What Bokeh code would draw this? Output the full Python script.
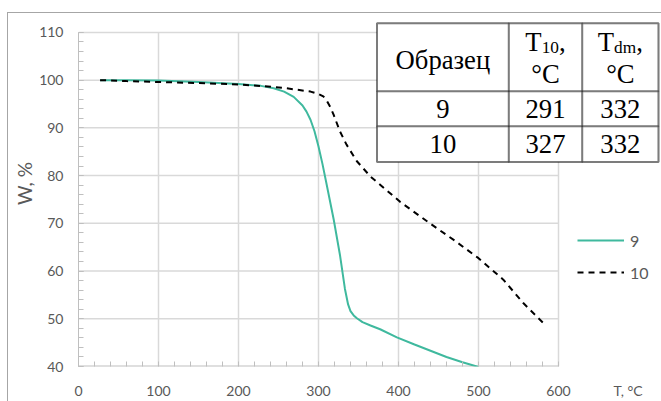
from bokeh.plotting import figure
from bokeh.models import (Range1d, FixedTicker, Label, BoxAnnotation, Legend,
                          LegendItem, InlineStyleSheet)
from bokeh.embed import file_html
from bokeh.resources import INLINE

# ---- data ----
T9 = [27, 60, 100, 150, 200, 228, 244, 257, 269, 280, 285, 290, 295, 300, 305, 310, 319, 327, 333, 337, 340, 344, 348, 355, 365, 377, 398, 420, 440, 460, 480, 500]
W9 = [100.0, 100.0, 99.95, 99.6, 99.2, 98.8, 98.3, 97.6, 96.5, 94.7, 93.4, 91.7, 89.3, 86.1, 82.4, 78.3, 70.8, 63.2, 56.3, 53.0, 51.6, 50.7, 50.1, 49.3, 48.6, 47.8, 46.1, 44.6, 43.3, 42.0, 40.9, 39.9]

T10 = [27, 60, 100, 150, 200, 231, 255, 273, 290, 300, 306, 310, 315, 319, 327, 335, 348, 365, 377, 402, 440, 470, 500, 531, 556, 581]
W10 = [100.0, 99.8, 99.6, 99.4, 99.1, 98.75, 98.4, 98.0, 97.6, 97.1, 96.6, 95.8, 94.3, 92.7, 89.2, 86.5, 83.0, 79.8, 78.1, 74.5, 69.9, 66.4, 62.7, 58.2, 53.3, 49.1]

x_ticks = [0, 100, 200, 300, 400, 500, 600]
x_minor = list(range(0, 601, 20))
y_ticks = [40, 50, 60, 70, 80, 90, 100, 110]
y_minor = list(range(40, 111, 2))

series_names = ["9", "10"]
x_title = "T, °C"
x_title_pos = 687          # x position (data units) where the x title sits
y_title = "W, %"

table_head = ["Образец", ("T", "10"), ("T", "dm")]
table_unit = "°C"
table_rows = [["9", "291", "332"], ["10", "327", "332"]]

# ---- layout constants (pixels) ----
W, H = 661, 401
PL, PR, PT, PB = 78, 558, 32, 367      # where x 0..600 / y 110..40 sit
X0, X1, Y0, Y1 = 0, 600, 40, 110

TEAL = "#3FB99E"
GRAY_TXT = "#595959"
AXIS_C = "#bfbfbf"
GRID_C = "#d9d9d9"


def dx(px):
    return X0 + (px - PL) * (X1 - X0) / (PR - PL)


def dy(py):
    return Y1 - (py - PT) * (Y1 - Y0) / (PB - PT)


p = figure(width=W, height=H,
           x_range=Range1d(dx(PL), dx(W)), y_range=Range1d(dy(PB), dy(0)),
           output_backend="svg", toolbar_location=None,
           min_border_left=PL, min_border_right=0,
           min_border_top=0, min_border_bottom=H - PB)
p.outline_line_color = None
p.background_fill_color = None
p.border_fill_color = None
p.xgrid.visible = False
p.ygrid.visible = False

# outer chart border (left and top edges are visible in the reference)
p.stylesheets = [InlineStyleSheet(css=(
    ":host::after{content:'';position:absolute;left:7px;top:12px;right:0;bottom:0;"
    "border-left:1px solid #a6a6a6;border-top:1px solid #a6a6a6;pointer-events:none;}"))]

# axes
for ax in (p.xaxis[0], p.yaxis[0]):
    ax.major_tick_line_color = AXIS_C
    ax.minor_tick_line_color = AXIS_C
    ax.minor_tick_in = 5
    ax.minor_tick_out = 0
    ax.major_label_text_font = "Lato"
    ax.major_label_text_font_size = "14px"
    ax.major_label_text_color = GRAY_TXT

xa = p.xaxis[0]
xa.ticker = FixedTicker(ticks=x_ticks + [x_title_pos], minor_ticks=x_minor)
xa.major_label_overrides = {x_title_pos: x_title}
xa.axis_line_color = None
xa.major_tick_in = 0
xa.major_tick_out = 0
xa.major_label_standoff = 15

ya = p.yaxis[0]
ya.ticker = FixedTicker(ticks=y_ticks, minor_ticks=y_minor)
ya.bounds = (Y0, Y1)
ya.axis_line_color = AXIS_C
ya.major_tick_in = 5
ya.major_tick_out = 0
ya.major_label_standoff = 15
ya.axis_label = y_title
ya.axis_label_text_font = "Lato"
ya.axis_label_text_font_size = "19px"
ya.axis_label_text_font_style = "normal"
ya.axis_label_text_color = GRAY_TXT
ya.axis_label_standoff = 0

# grid lines (bounded to the data area)
p.segment(x0=x_ticks[1:], y0=[Y0] * (len(x_ticks) - 1), x1=x_ticks[1:], y1=[Y1] * (len(x_ticks) - 1),
          line_color=GRID_C, line_width=1.5)
p.segment(x0=[X0] * (len(y_ticks) - 1), y0=y_ticks[1:], x1=[X1] * (len(y_ticks) - 1), y1=y_ticks[1:],
          line_color=GRID_C, line_width=1.5)
# x axis line (sits on the frame's bottom edge; half of a 2px stroke shows)
p.segment(x0=[X0], y0=[Y0], x1=[X1], y1=[Y0], line_color=AXIS_C, line_width=2)

# curves
r9 = p.line(T9, W9, line_color=TEAL, line_width=2)
r10 = p.line(T10, W10, line_color="black", line_width=2, line_dash="6 5")

legend = Legend(items=[LegendItem(label=series_names[0], renderers=[r9]),
                       LegendItem(label=series_names[1], renderers=[r10])],
                location=(577 - PL, PB - 283), orientation="vertical",
                glyph_width=47, glyph_height=20, label_height=20, spacing=12,
                padding=0, margin=0, label_standoff=6,
                border_line_alpha=0, background_fill_alpha=0,
                label_text_font="Lato", label_text_font_size="16px",
                label_text_color=GRAY_TXT)
p.add_layout(legend)

# ---- table ----
cols = [376.5, 508.3, 581.7, 658]
rows = [22.7, 91, 126, 162]
p.add_layout(BoxAnnotation(left=dx(cols[0]), right=dx(cols[-1]),
                           top=dy(rows[0]), bottom=dy(rows[-1]),
                           fill_color="white", fill_alpha=1,
                           line_color="black", line_width=2))
for i in range(3):
    for j in range(3):
        p.add_layout(BoxAnnotation(left=dx(cols[j]), right=dx(cols[j + 1]),
                                   top=dy(rows[i]), bottom=dy(rows[i + 1]),
                                   fill_color=None, fill_alpha=0,
                                   line_color="black", line_width=2))

SERIF = "Liberation Serif"
FS = 26.67
SUB = 17.3


def tlabel(xp, yp, text, size=FS, align="center"):
    p.add_layout(Label(x=dx(xp), y=dy(yp), text=text, text_align=align,
                       text_baseline="middle", text_font=SERIF,
                       text_font_size=f"{size}px", text_color="black"))


ccent = [(cols[k] + cols[k + 1]) / 2 for k in range(3)]
tlabel(ccent[0], 60, table_head[0])
for k in (1, 2):
    main, sub = table_head[k]
    w_main = 0.611 * FS
    w_sub = (1.0 if sub == "10" else 1.278) * SUB
    w_comma = 0.25 * FS
    left = ccent[k] - (w_main + w_sub + w_comma) / 2
    tlabel(left, 42, main, align="left")
    tlabel(left + w_main, 47, sub, size=SUB, align="left")
    tlabel(left + w_main + w_sub, 42, ",", align="left")
    tlabel(ccent[k], 74, table_unit)

centers = [108.5, 144]
for r, row in enumerate(table_rows):
    for k, txt in enumerate(row):
        tlabel(ccent[k], centers[r], txt)

open("out.html", "w").write(file_html(p, INLINE))
